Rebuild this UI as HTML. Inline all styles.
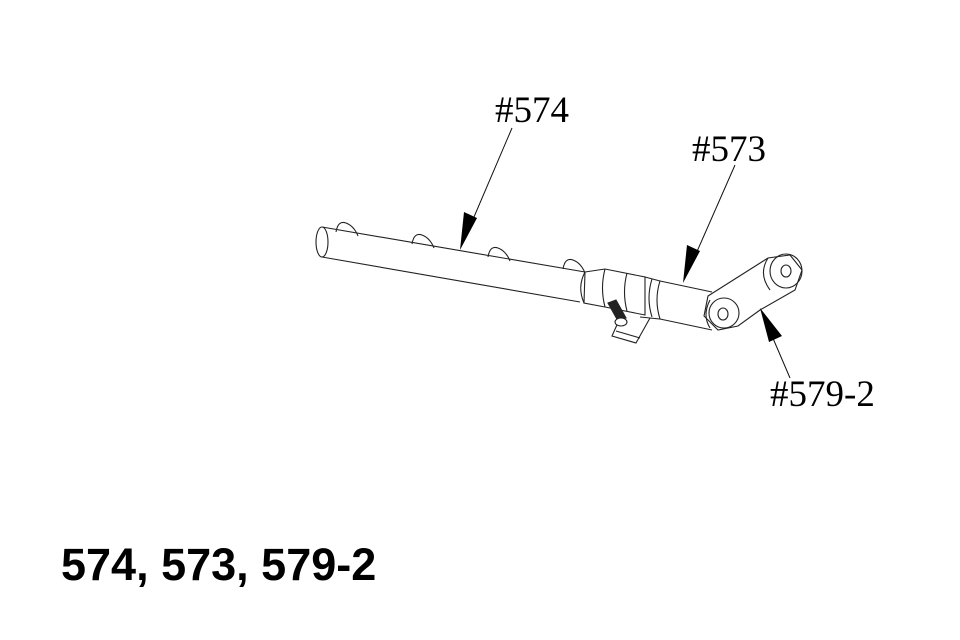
<!DOCTYPE html>
<html><head><meta charset="utf-8"><style>
html,body{margin:0;padding:0;background:#fff;}
body{width:960px;height:640px;position:relative;overflow:hidden;}
svg{position:absolute;left:0;top:0;}
</style></head><body>
<svg width="960" height="640" viewBox="0 0 960 640" xmlns="http://www.w3.org/2000/svg">
<g fill="none" stroke="#222" stroke-width="1.1">
<path d="M336,232 q2,-12 10,-9 q8,3 12,13"/>
<path d="M412,244 q2,-12 10,-9 q8,3 12,13"/>
<path d="M488,257 q2,-12 10,-9 q8,3 12,13"/>
<path d="M563,269 q2,-12 10,-9 q8,3 12,13"/>
<path d="M322,227 L585,272" fill="#fff"/>
<path d="M322,257 L580,302"/>
<ellipse cx="322" cy="242" rx="6" ry="15" fill="#fff"/>
<path d="M585,272 L605,269 L645,277 L645,315 L605,307 L584,303 Z" fill="#fff"/>
<path d="M585,272 q-8,15 -1,31"/>
<path d="M605,269 q-5,19 0,38"/>
<path d="M627,273 q-5,19 0,38"/>
<path d="M645,277 L660,281 q-6,19 0,38 L640,317"/>
<path d="M652,279 q-6,19 0,38"/>
<path d="M620,318 L612,336 L636,343 L650,318"/>
<path d="M616,331 L640,338"/>
<path d="M608,303 L616,300 L626,318 L618,321 Z" fill="#222"/>
<ellipse cx="621" cy="322" rx="6" ry="4" fill="#fff"/>
<path d="M660,281 L712,292"/>
<path d="M660,319 L712,330"/>
<path d="M708,296 L768,258 L790,255 L802,270 L795,290 L760,310 L738,326 L718,330 L704,316 Z" fill="#fff"/>
<ellipse cx="786" cy="271" rx="16" ry="17"/>
<ellipse cx="786" cy="271" rx="5" ry="6"/>
<path d="M768,258 q-10,16 2,32"/>
<ellipse cx="724" cy="313" rx="15" ry="15"/>
<ellipse cx="723" cy="314" rx="5" ry="6"/>
<path d="M710,300 q-8,15 0,28"/>
</g>
<g stroke="#111" stroke-width="1">
<line x1="512" y1="128" x2="465" y2="238"/>
<line x1="735" y1="165" x2="688" y2="272"/>
<line x1="790" y1="378" x2="766" y2="322"/>
</g>
<g fill="#000">
<polygon points="460,250 464,212 477,218"/>
<polygon points="683,283 687,245 700,251"/>
<polygon points="760,308 782,336 769,342"/>
</g>
<g font-family="'Liberation Serif',serif" font-size="37" fill="#000">
<text x="495" y="122">#574</text>
<text x="692" y="161">#573</text>
<text x="770" y="406">#579-2</text>
</g>
<text x="61" y="580" font-family="'Liberation Sans',sans-serif" font-weight="bold" font-size="45" fill="#000">574, 573, 579-2</text>
</svg>
</body></html>
